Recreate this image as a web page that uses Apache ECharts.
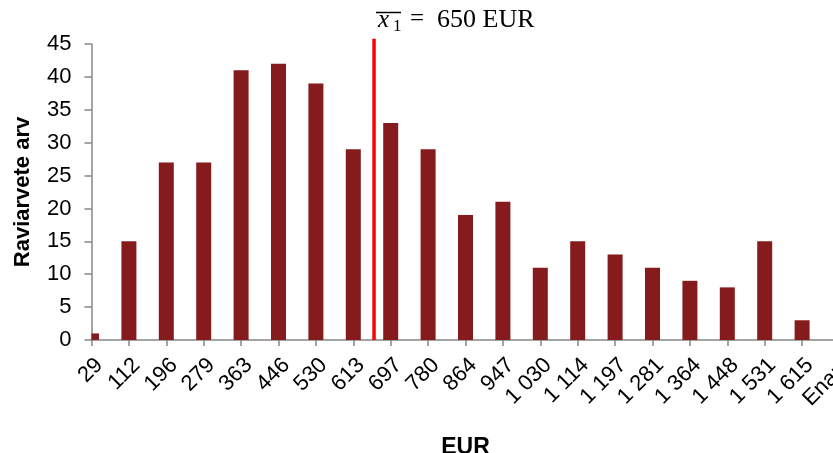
<!DOCTYPE html>
<html>
<head>
<meta charset="utf-8">
<script src="https://cdn.jsdelivr.net/npm/echarts@6/dist/echarts.min.js"></script>
<style>
html,body{margin:0;padding:0;background:#fff;}
#chart{width:833px;height:453px;}
</style>
</head>
<body>
<div id="chart"></div>
<script>
// Data
const categories = ['29','112','196','279','363','446','530','613','697','780','864','947','1 030','1 114','1 197','1 281','1 364','1 448','1 531','1 615','Enam'];
const counts = [1,15,27,27,41,42,39,29,33,29,19,21,11,15,13,11,9,8,15,3,0];
const meanValue = 650;
const yTicks = {min:0, max:45, interval:5};
const binStart = 29;
const binEnd = 1673;

const chart = echarts.init(document.getElementById('chart'));
const barColor = '#861B1D';
const axisGray = '#878787';
const sans = 'Liberation Sans, Arial';
const serif = 'Liberation Serif, Times New Roman';
const barW = 15;

function renderBar(params, api) {
  const idx = api.value(0);
  const val = api.value(1);
  const base = api.coord([idx, 0]);
  const top = api.coord([idx, val]);
  const cs = params.coordSys;
  const rect = echarts.graphic.clipRectByRect(
    {x: base[0] - barW / 2, y: top[1], width: barW, height: base[1] - top[1]},
    {x: cs.x, y: cs.y, width: cs.width, height: cs.height}
  );
  if (!rect) return null;
  return {type: 'rect', shape: rect, style: {fill: barColor}};
}

chart.setOption({
  animation: false,
  grid: {left: 91.5, width: 748, top: 44, height: 296, containLabel: false, outerBoundsMode: 'none'},
  xAxis: [{
    type: 'category',
    data: categories,
    boundaryGap: false,
    name: 'EUR',
    nameLocation: 'middle',
    nameGap: 96,
    nameTextStyle: {fontFamily: sans, fontSize: 23, fontWeight: 'bold', color: '#000'},
    axisLine: {lineStyle: {color: axisGray, width: 1.5}},
    axisTick: {show: true, alignWithLabel: true, length: 6, lineStyle: {color: axisGray, width: 1.5}},
    axisLabel: {
      interval: 0, rotate: 45, margin: 14,
      verticalAlign: 'top',
      hideOverlap: false,
      fontFamily: sans, fontSize: 22, color: '#000'
    },
    splitLine: {show: false}
  }, {
    type: 'value',
    min: binStart, max: binEnd,
    show: false
  }],
  yAxis: [{
    type: 'value',
    min: yTicks.min, max: yTicks.max, interval: yTicks.interval,
    name: 'Raviarvete arv',
    nameLocation: 'middle',
    nameGap: 58,
    nameTextStyle: {fontFamily: sans, fontSize: 22, fontWeight: 'bold', color: '#000'},
    axisLine: {show: true, lineStyle: {color: axisGray, width: 1.5}},
    axisTick: {show: true, length: 7, lineStyle: {color: axisGray, width: 1.5}},
    axisLabel: {fontFamily: sans, fontSize: 22, color: '#000', margin: 20},
    splitLine: {show: false}
  }, {
    type: 'value', min: yTicks.min, max: yTicks.max, show: false
  }],
  series: [{
    type: 'custom',
    renderItem: renderBar,
    data: counts.map((v, i) => [i, v]),
    encode: {x: 0, y: 1},
    clip: true,
    xAxisIndex: 0, yAxisIndex: 0,
    z: 2
  }, {
    type: 'line',
    xAxisIndex: 1, yAxisIndex: 1,
    data: [[meanValue, 0], [meanValue, 45.8]],
    symbol: 'none',
    clip: false,
    lineStyle: {color: '#FF0000', width: 3.5},
    z: 5
  }],
  graphic: [
    {type: 'text', left: 378, top: 8, style: {text: 'x', font: 'italic 25px ' + serif, fill: '#000'}},
    {type: 'text', left: 393, top: 18, style: {text: '1', font: '17px ' + serif, fill: '#000'}},
    {type: 'text', left: 410, top: 7, style: {text: '=', font: '25px ' + serif, fill: '#000'}},
    {type: 'text', left: 437, top: 7, style: {text: '650 EUR', font: '26px ' + serif, fill: '#000'}},
    {type: 'line', shape: {x1: 376, y1: 12.5, x2: 401, y2: 12.5}, style: {stroke: '#000', lineWidth: 1.5}}
  ]
});
</script>
</body>
</html>
